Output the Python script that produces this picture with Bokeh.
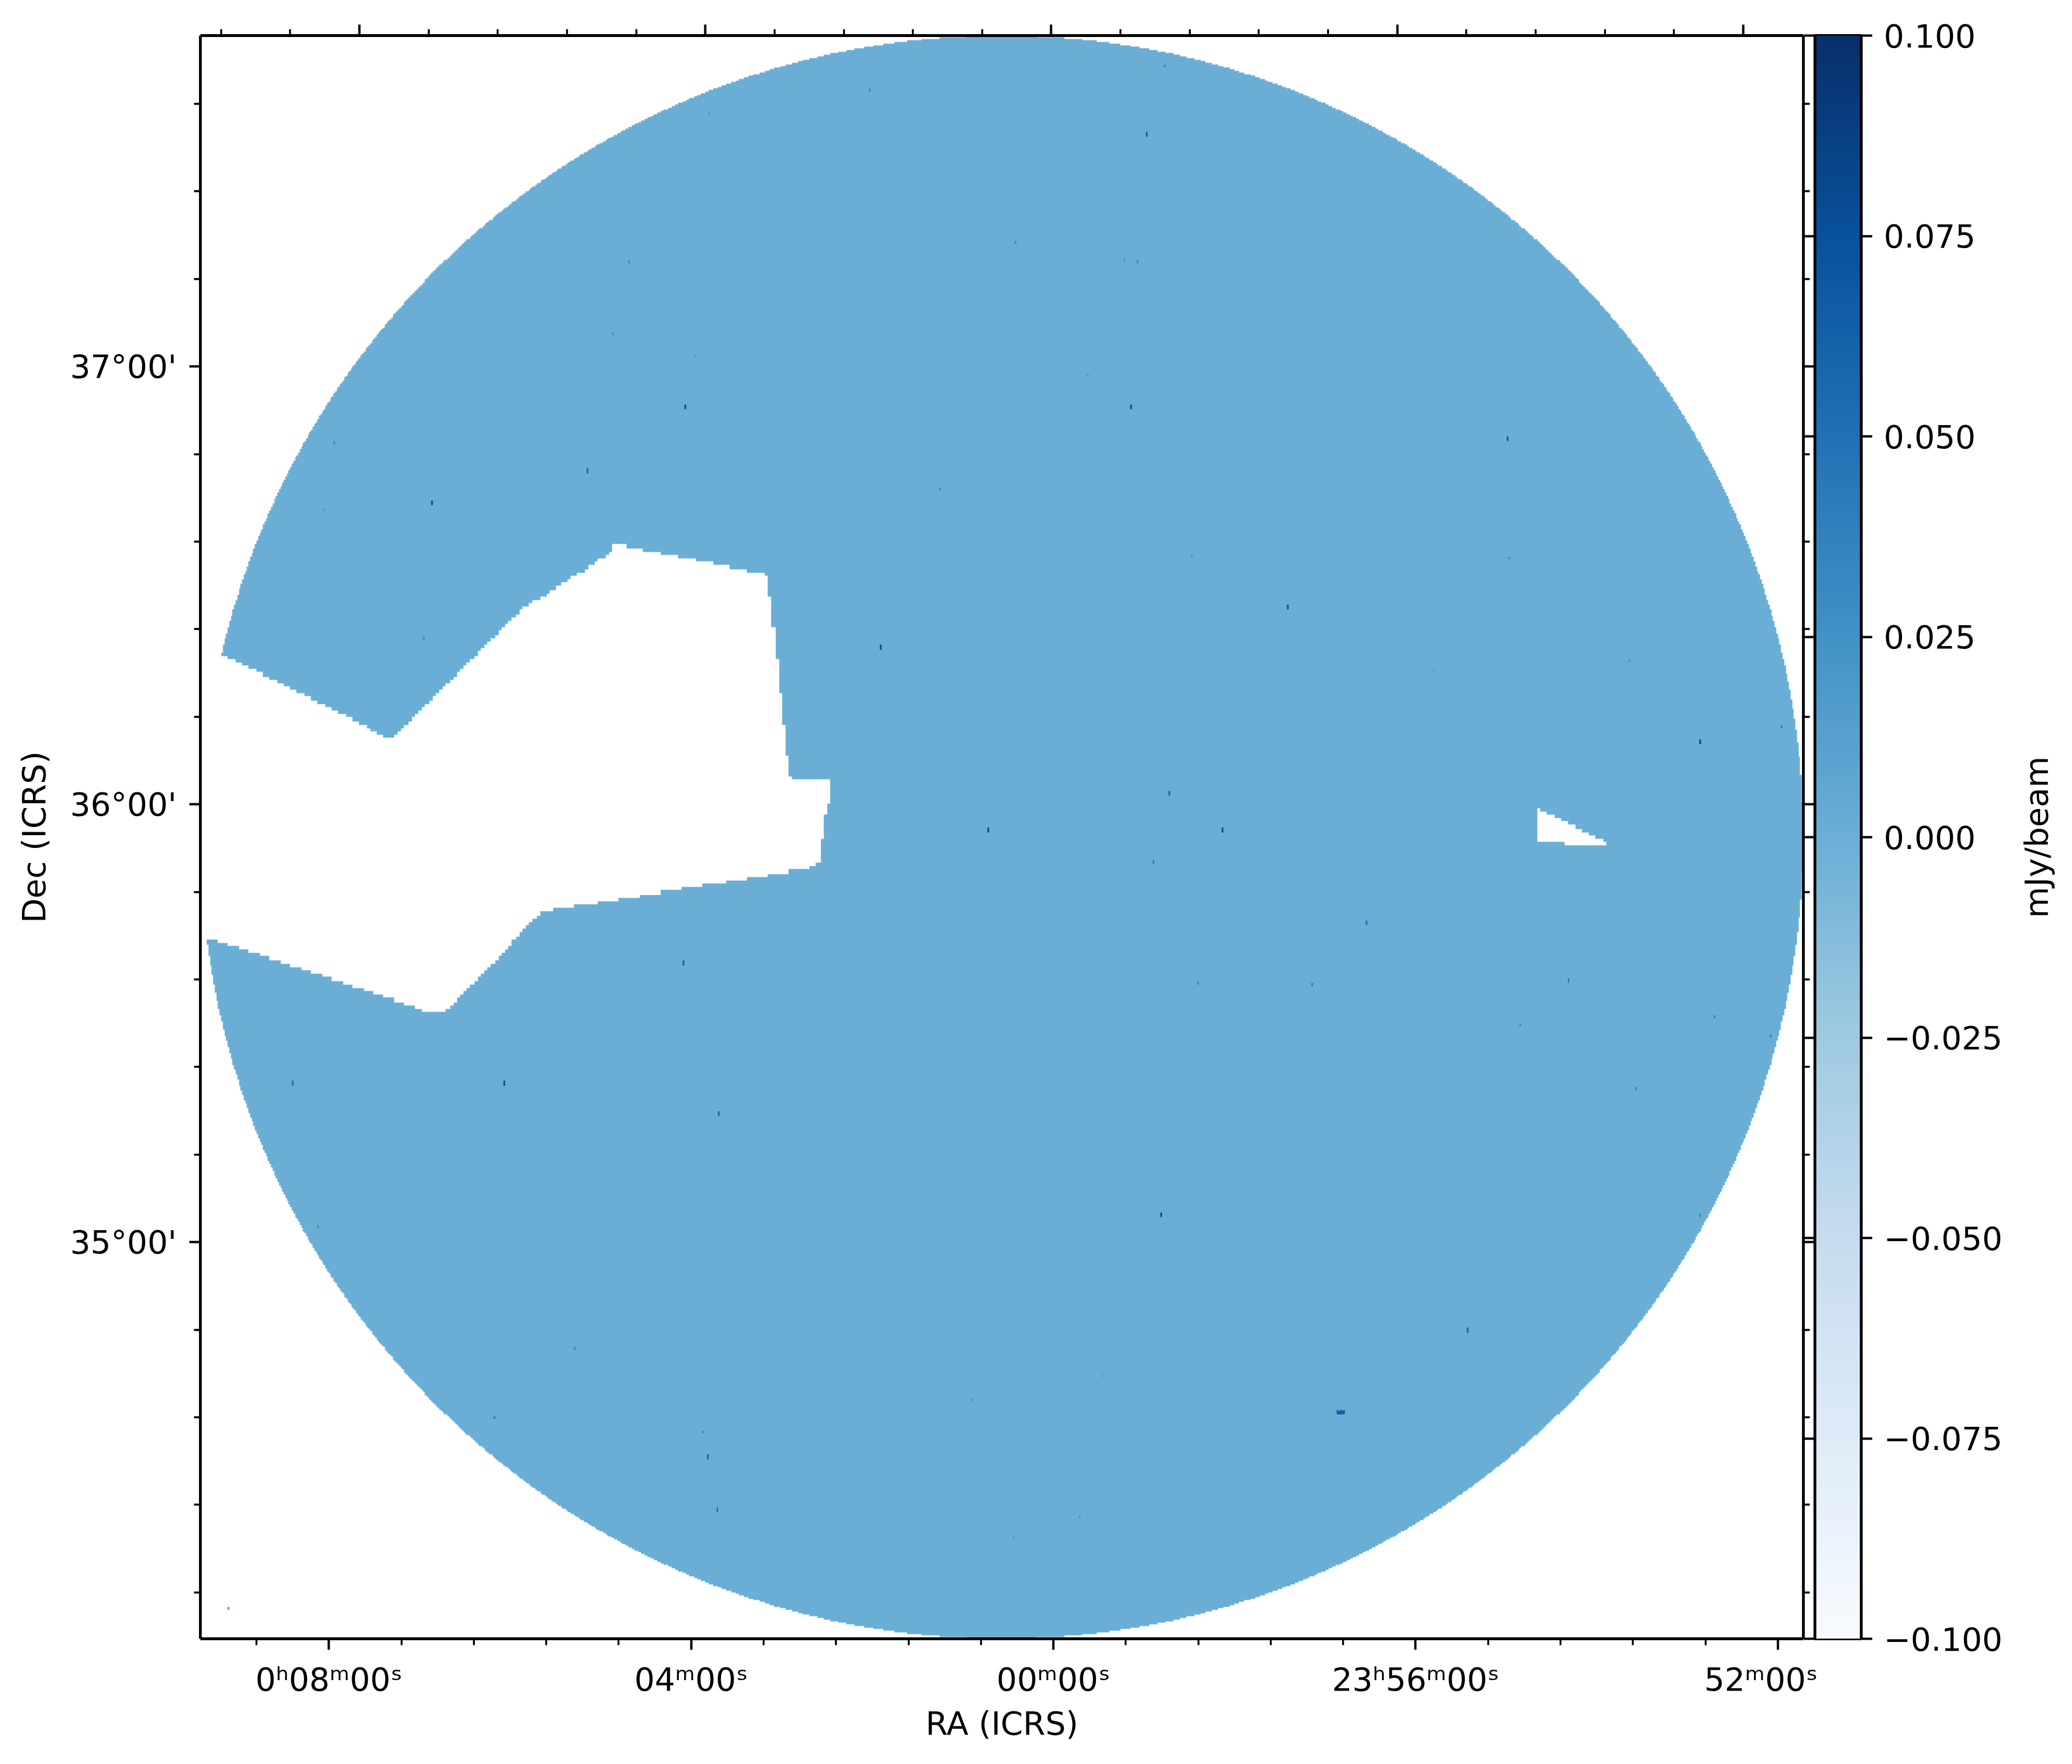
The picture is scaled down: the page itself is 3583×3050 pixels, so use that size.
import numpy as np
from bokeh.core.properties import value
from bokeh.embed import file_html
from bokeh.layouts import row
from bokeh.models import FixedTicker, LinearAxis, LinearColorMapper, Range1d
from bokeh.palettes import Blues256
from bokeh.plotting import figure
from bokeh.resources import INLINE

# ---- image geometry (image units) ----
IMAGE_SIZE = 500
IMAGE_CELLS = 1000      # pixels of the map
MASK_CELL = 1.08        # the no-data mask is coarser than the map
FIELD_CENTER = (250.0, 250.0)
FIELD_RADIUS = 250.0

# regions without data, outlined in image units
GAP_MAIN_X = [-10, 6.9, 59.3, 100.0, 128.3, 128.3, 131.1, 176.6, 177.3, 183.8, 196.9, 196.9,
              194.6, 193.2, 192.1, 106.5, 75.9, 72.4, 2.05, -10]
GAP_MAIN_Y = [307.25, 307.25, 280.5, 320.9, 338.8, 341.4, 341.2, 331.9, 328.5, 268.4, 268.1, 263.2,
              256.5, 242.8, 240.6, 226.7, 195.1, 195.1, 218.7, 218.7]
GAP_SMALL_X = [416.5, 438.3, 438.3, 425.7, 425.7, 416.7, 416.5]
GAP_SMALL_Y = [259.1, 248.7, 247.5, 247.3, 248.4, 248.3, 249.5]

# compact sources: image x, y and flux (mJy/beam)
SRC_X = [355.5, 354.5, 356.5, 299.9, 245.9, 318.8, 302.4, 297.0, 212.1, 339.0, 72.4, 290.0, 151.1, 407.9,
         120.6, 295.0, 467.6, 94.6, 150.7, 363.8, 426.8, 311.0, 346.9, 472.2, 489.9, 161.8, 28.7, 36.5,
         395.1, 116.5, 91.7, 156.5, 158.1, 161.4, 240.5, 467.6, 408.3, 445.8, 384.8, 288.3, 292.0, 154.0,
         38.6, 41.5, 69.9, 128.8, 133.8, 158.9, 208.8, 230.6, 309.4, 276.8, 254.1, 300.7, 411.6, 253.7,
         274.3, 281.8, 447.5, 493.2, 8.9]
SRC_Y = [70.8, 70.8, 70.8, 132.2, 252.2, 252.2, 263.7, 242.3, 309.0, 321.8, 354.4, 384.1, 384.1, 374.2,
         364.3, 469.4, 279.8, 173.4, 210.5, 223.3, 205.2, 204.4, 203.5, 193.6, 187.5, 163.5, 173.0, 128.1,
         96.4, 90.2, 68.8, 64.2, 56.8, 40.3, 74.1, 131.8, 336.7, 304.5, 301.6, 429.8, 429.0, 399.7,
         351.5, 372.9, 311.5, 406.7, 429.4, 475.1, 482.6, 358.1, 337.1, 393.5, 435.2, 490.4, 191.2, 31.2,
         37.8, 81.5, 171.0, 284.3, 9.0]
SRC_FLUX = [0.065, 0.05, 0.05, 0.08, 0.08, 0.08, 0.06, 0.05, 0.08, 0.08, 0.08, 0.08, 0.08, 0.07,
            0.06, 0.06, 0.09, 0.08, 0.06, 0.05, 0.05, 0.03, 0.04, 0.04, 0.04, 0.06, 0.05, 0.03,
            0.06, 0.03, 0.04, 0.04, 0.06, 0.07, 0.02, 0.03, 0.03, 0.02, 0.02, 0.03, 0.03, 0.02,
            0.02, 0.03, 0.03, 0.03, 0.03, 0.02, 0.03, 0.03, 0.02, 0.02, 0.03, 0.03, 0.03, 0.02,
            0.02, 0.02, 0.03, 0.04, 0.02]

# ---- axes ----
RA_BOTTOM_RANGE = (9.420, -8.282)   # minutes of RA along the lower edge
RA_TOP_RANGE = (9.839, -8.696)      # minutes of RA along the upper edge
DEC_RANGE = (34.094, 37.756)        # degrees
RA_MAJOR = [8, 4, 0, -4, -8]
RA_LABELS = ["0ʰ08ᵐ00ˢ", "04ᵐ00ˢ", "00ᵐ00ˢ", "23ʰ56ᵐ00ˢ", "52ᵐ00ˢ"]
RA_MINOR = [9.6, 8.8, 7.2, 6.4, 5.6, 4.8, 3.2, 2.4, 1.6, 0.8, -0.8, -1.6, -2.4, -3.2, -4.8, -5.6, -6.4, -7.2]
DEC_MAJOR = [37, 36, 35]
DEC_LABELS = ["37°00'", "36°00'", "35°00'"]
DEC_MINOR = [37.6, 37.4, 37.2, 36.8, 36.6, 36.4, 36.2, 35.8, 35.6, 35.4, 35.2, 34.8, 34.6, 34.4, 34.2]
CB_TICKS = [0.1, 0.075, 0.05, 0.025, 0, -0.025, -0.05, -0.075, -0.1]
CB_LABELS = ["0.100", "0.075", "0.050", "0.025", "0.000", "−0.025", "−0.050", "−0.075", "−0.100"]
CB_LABEL = "mJy/beam"


def inside(xx, yy, px, py):
    px, py = np.asarray(px, float), np.asarray(py, float)
    hit = np.zeros(xx.shape, bool)
    for i in range(len(px)):
        j = (i + 1) % len(px)
        if py[i] == py[j]:
            continue
        cross = (py[i] > yy) != (py[j] > yy)
        xcut = px[i] + (yy - py[i]) * (px[j] - px[i]) / (py[j] - py[i])
        hit ^= cross & (xx < xcut)
    return hit


scale = IMAGE_CELLS / IMAGE_SIZE
cells = (np.arange(IMAGE_CELLS) + 0.5) / scale
xx, yy = np.meshgrid(cells, cells)
mx = (np.floor(xx / MASK_CELL) + 0.5) * MASK_CELL
my = (np.floor(yy / MASK_CELL) + 0.5) * MASK_CELL
img = np.zeros_like(xx)
img[np.hypot(xx - FIELD_CENTER[0], yy - FIELD_CENTER[1]) > FIELD_RADIUS] = np.nan
img[inside(mx, my, GAP_MAIN_X, GAP_MAIN_Y)] = np.nan
img[inside(mx, my, GAP_SMALL_X, GAP_SMALL_Y)] = np.nan
for sx, sy, sf in zip(SRC_X, SRC_Y, SRC_FLUX):
    ci, cj = int(sx * scale), int(sy * scale)
    if sf >= 0.05:
        img[cj - 1:cj + 2, ci] = sf
    else:
        img[cj:cj + 2, ci] = sf
# the brightest source is resolved across its neighbours
img[int(70.8 * scale) - 1:int(70.8 * scale) + 1, int(354.5 * scale):int(356.5 * scale) + 1] = 0.065

mapper = LinearColorMapper(palette=list(reversed(Blues256)), low=-0.1, high=0.1, nan_color=(0, 0, 0, 0))

FONT = "DejaVu Sans"
FS = "55.5px"
SPINE = 4.8


def style(ax, label_standoff=18):
    ax.axis_line_width = SPINE
    ax.axis_line_color = "black"
    ax.major_tick_line_width = 4
    ax.minor_tick_line_width = 3.3
    ax.major_tick_in = 0
    ax.minor_tick_in = 0
    ax.major_tick_out = 19
    ax.minor_tick_out = 11
    ax.major_label_text_font = FONT
    ax.major_label_text_font_size = FS
    ax.major_label_text_color = "black"
    ax.major_label_standoff = label_standoff
    ax.axis_label_text_font = FONT
    ax.axis_label_text_font_size = FS
    ax.axis_label_text_font_style = "normal"
    ax.axis_label_text_color = "black"


p = figure(width=3143, height=3033, output_backend="svg", toolbar_location=None,
           x_range=Range1d(0, IMAGE_SIZE), y_range=Range1d(0, IMAGE_SIZE),
           x_axis_type=None, y_axis_type=None,
           min_border_left=346, min_border_right=25, min_border_top=61, min_border_bottom=200)
p.outline_line_color = None
p.background_fill_color = "white"
p.border_fill_color = None
p.extra_x_ranges = {"ra_bottom": Range1d(*RA_BOTTOM_RANGE), "ra_top": Range1d(*RA_TOP_RANGE)}
p.extra_y_ranges = {"dec": Range1d(*DEC_RANGE)}
p.image(image=[img], x=0, y=0, dw=IMAGE_SIZE, dh=IMAGE_SIZE, color_mapper=mapper)

ra_ticks = FixedTicker(ticks=RA_MAJOR, minor_ticks=RA_MINOR)
dec_ticks = FixedTicker(ticks=DEC_MAJOR, minor_ticks=DEC_MINOR)

bottom = LinearAxis(x_range_name="ra_bottom", ticker=ra_ticks, axis_label="RA (ICRS)")
style(bottom)
bottom.major_label_overrides = dict(zip(RA_MAJOR, RA_LABELS))
bottom.axis_label_standoff = 8
p.add_layout(bottom, "below")

top = LinearAxis(x_range_name="ra_top", ticker=ra_ticks)
style(top)
top.major_label_text_font_size = "0px"
top.major_label_standoff = 0
top.major_label_overrides = {v: "" for v in RA_MAJOR}
p.add_layout(top, "above")

left = LinearAxis(y_range_name="dec", ticker=dec_ticks, axis_label="Dec (ICRS)")
style(left, label_standoff=22)
left.major_label_overrides = dict(zip(DEC_MAJOR, DEC_LABELS))
left.axis_label_standoff = 27
p.add_layout(left, "left")

right = LinearAxis(y_range_name="dec", ticker=dec_ticks)
style(right)
right.major_label_text_font_size = "0px"
right.major_label_standoff = 0
right.major_label_overrides = {v: "" for v in DEC_MAJOR}
p.add_layout(right, "right")

# ---- colour bar ----
cb = figure(width=355, height=3033, output_backend="svg", toolbar_location=None,
            x_range=Range1d(0, 1), y_range=Range1d(-0.1, 0.1),
            x_axis_type=None, y_axis_type=None,
            min_border_left=20, min_border_right=255, min_border_top=61, min_border_bottom=200)
cb.margin = (0, 0, 0, -25)
cb.background_fill_color = None
cb.border_fill_color = None
cb.outline_line_color = "black"
cb.outline_line_width = SPINE
cb.image(image=[np.linspace(-0.1, 0.1, 256).reshape(256, 1)], x=0, y=-0.1, dw=1, dh=0.2, color_mapper=mapper)

cb_ticker = FixedTicker(ticks=CB_TICKS, minor_ticks=[])
cb_right = LinearAxis(ticker=cb_ticker)
style(cb_right, label_standoff=20)
cb_right.major_label_overrides = dict(zip(CB_TICKS, CB_LABELS))
cb.add_layout(cb_right, "right")

cb_left = LinearAxis(ticker=cb_ticker)
style(cb_left)
cb_left.major_label_text_font_size = "0px"
cb_left.major_label_standoff = 0
cb_left.major_label_overrides = {v: "" for v in CB_TICKS}
cb.add_layout(cb_left, "left")

# ---- colour bar title: its own narrow panel, so it reads upward and stays centred ----
cap = figure(width=96, height=3033, output_backend="svg", toolbar_location=None,
             x_range=Range1d(0, 1), y_range=Range1d(-0.1, 0.1),
             x_axis_type=None, y_axis_type=None,
             min_border_left=0, min_border_right=0, min_border_top=61, min_border_bottom=200)
cap.outline_line_color = None
cap.background_fill_color = None
cap.border_fill_color = None
cap.text(x=[0.5], y=[0], text=[CB_LABEL], angle=np.pi / 2, text_align="center", text_baseline="middle",
         text_font=value(FONT), text_font_size=value(FS), text_color="black")

layout = row(p, cb, cap, spacing=0)
open("out.html", "w").write(file_html(layout, INLINE))
